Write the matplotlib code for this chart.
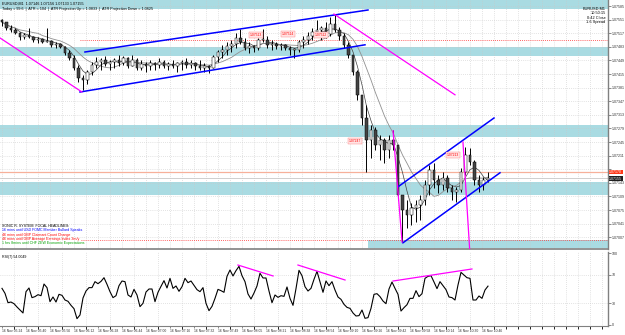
import numpy as np
import pandas as pd
import matplotlib
matplotlib.use("Agg")
import matplotlib.pyplot as plt

plt.rcParams['font.family'] = ['Liberation Sans', 'DejaVu Sans']

# EURUSD M1, grouped into 3-minute bars (minutes from 16 Nov 05:24)
high = [1.07553, 1.07545, 1.07538, 1.07530, 1.07520, 1.07518, 1.07530, 1.07510, 1.07508, 1.07505,
        1.07530, 1.07500, 1.07495, 1.07493, 1.07485, 1.07475, 1.07463, 1.07438, 1.07413, 1.07425,
        1.07445, 1.07458, 1.07455, 1.07460, 1.07450, 1.07455, 1.07463, 1.07460, 1.07458, 1.07463,
        1.07455, 1.07450, 1.07445, 1.07450, 1.07445, 1.07455, 1.07450, 1.07445, 1.07450, 1.07445,
        1.07450, 1.07455, 1.07450, 1.07445, 1.07450, 1.07443, 1.07438, 1.07463, 1.07475, 1.07488,
        1.07495, 1.07500, 1.07518, 1.07528, 1.07505, 1.07495, 1.07488, 1.07505, 1.07528, 1.07510,
        1.07500, 1.07495, 1.07493, 1.07490, 1.07485, 1.07480, 1.07500, 1.07510, 1.07520, 1.07530,
        1.07550, 1.07535, 1.07545, 1.07558, 1.07565, 1.07533, 1.07518, 1.07495, 1.07463, 1.07425,
        1.07363, 1.07338, 1.07288, 1.07283, 1.07263, 1.07255, 1.07263, 1.07275, 1.07238, 1.07113,
        1.07100, 1.07093, 1.07100, 1.07113, 1.07150, 1.07188, 1.07193, 1.07163, 1.07170, 1.07163,
        1.07138, 1.07133, 1.07180, 1.07233, 1.07230, 1.07200, 1.07163, 1.07158, 1.07170]
low = [1.07535, 1.07525, 1.07520, 1.07515, 1.07500, 1.07503, 1.07505, 1.07495, 1.07493, 1.07493,
       1.07495, 1.07483, 1.07480, 1.07480, 1.07463, 1.07450, 1.07425, 1.07395, 1.07375, 1.07390,
       1.07413, 1.07430, 1.07425, 1.07435, 1.07425, 1.07430, 1.07435, 1.07438, 1.07430, 1.07435,
       1.07425, 1.07425, 1.07420, 1.07425, 1.07425, 1.07430, 1.07430, 1.07425, 1.07430, 1.07420,
       1.07425, 1.07430, 1.07430, 1.07425, 1.07425, 1.07420, 1.07418, 1.07430, 1.07445, 1.07455,
       1.07463, 1.07470, 1.07480, 1.07490, 1.07475, 1.07468, 1.07470, 1.07475, 1.07495, 1.07480,
       1.07475, 1.07478, 1.07475, 1.07475, 1.07463, 1.07455, 1.07470, 1.07480, 1.07490, 1.07500,
       1.07510, 1.07500, 1.07505, 1.07510, 1.07520, 1.07500, 1.07480, 1.07455, 1.07413, 1.07350,
       1.07288, 1.07170, 1.07205, 1.07225, 1.07200, 1.07193, 1.07205, 1.07225, 1.07100, 1.06995,
       1.07030, 1.07038, 1.07045, 1.07050, 1.07088, 1.07113, 1.07130, 1.07118, 1.07125, 1.07120,
       1.07100, 1.07095, 1.07120, 1.07163, 1.07188, 1.07138, 1.07120, 1.07125, 1.07145]
close = [1.07545, 1.07530, 1.07525, 1.07518, 1.07508, 1.07513, 1.07508, 1.07500, 1.07503, 1.07495,
         1.07498, 1.07488, 1.07490, 1.07483, 1.07468, 1.07455, 1.07430, 1.07405, 1.07400, 1.07420,
         1.07438, 1.07445, 1.07450, 1.07440, 1.07445, 1.07450, 1.07443, 1.07455, 1.07435, 1.07450,
         1.07430, 1.07440, 1.07435, 1.07443, 1.07438, 1.07445, 1.07435, 1.07440, 1.07435, 1.07443,
         1.07445, 1.07438, 1.07443, 1.07435, 1.07430, 1.07435, 1.07430, 1.07458, 1.07470, 1.07475,
         1.07485, 1.07490, 1.07505, 1.07495, 1.07480, 1.07485, 1.07480, 1.07500, 1.07500, 1.07488,
         1.07490, 1.07485, 1.07488, 1.07480, 1.07475, 1.07475, 1.07495, 1.07500, 1.07510, 1.07520,
         1.07525, 1.07530, 1.07515, 1.07540, 1.07525, 1.07510, 1.07488, 1.07463, 1.07420, 1.07363,
         1.07305, 1.07250, 1.07275, 1.07238, 1.07250, 1.07225, 1.07250, 1.07238, 1.07113, 1.07075,
         1.07063, 1.07080, 1.07088, 1.07100, 1.07138, 1.07175, 1.07150, 1.07138, 1.07155, 1.07130,
         1.07120, 1.07125, 1.07170, 1.07213, 1.07195, 1.07150, 1.07138, 1.07150, 1.07155]
first_open = 1.07550
bar_minutes = np.arange(len(close)) * 3

# RSI(7), sampled every 2 minutes
rsi = [50.9, 44.0, 31.0, 31.9, 29.6, 25.0, 20.8, 16.7, 46.3, 51.4,
       38.0, 39.4, 42.1, 40.7, 56.9, 51.9, 32.4, 38.9, 31.9, 42.6,
       41.2, 34.7, 32.9, 27.3, 22.7, 8.8, 13.9, 37.5, 47.2, 51.9,
       51.9, 60.2, 57.4, 60.6, 65.7, 56.5, 46.3, 38.0, 40.7, 54.6,
       61.1, 60.2, 41.7, 38.9, 49.5, 41.7, 25.5, 30.1, 45.8, 50.0,
       50.0, 32.4, 45.4, 53.7, 61.6, 51.4, 64.8, 50.9, 54.2, 46.8,
       53.2, 64.8, 58.8, 61.1, 55.1, 49.1, 46.3, 51.9, 30.1, 19.9,
       25.9, 37.0, 49.5, 47.7, 45.4, 67.6, 76.4, 68.1, 75.5, 81.5,
       68.5, 60.2, 43.1, 36.1, 44.4, 54.2, 71.8, 65.3, 65.3, 47.2,
       31.0, 41.7, 38.4, 40.7, 39.8, 52.8, 37.0, 27.3, 50.5, 75.9,
       68.5, 53.2, 47.2, 50.9, 63.4, 74.5, 60.2, 45.4, 61.1, 54.6,
       60.2, 48.6, 38.9, 35.6, 28.7, 24.5, 23.1, 16.7, 12.5, 13.0,
       20.8, 9.3, 10.2, 23.1, 42.6, 43.5, 39.4, 33.3, 29.6, 50.0,
       59.7, 50.9, 42.6, 19.4, 24.1, 28.2, 37.0, 37.0, 47.7, 39.4,
       43.5, 64.8, 67.6, 68.5, 59.7, 50.5, 60.2, 54.6, 49.1, 38.9,
       38.0, 34.7, 55.6, 73.1, 69.4, 65.7, 64.8, 34.7, 34.7, 40.3,
       37.0, 48.6, 54.0]
rsi_minutes = np.arange(len(rsi)) * 2

time_labels = ["16 Nov 05:24", "16 Nov 05:40", "16 Nov 05:56", "16 Nov 06:12", "16 Nov 06:28",
               "16 Nov 06:44", "16 Nov 07:00", "16 Nov 07:16", "16 Nov 07:32", "16 Nov 07:49",
               "16 Nov 08:05", "16 Nov 08:21", "16 Nov 08:38", "16 Nov 08:54", "16 Nov 09:10",
               "16 Nov 09:26", "16 Nov 09:42", "16 Nov 09:58", "16 Nov 10:14", "16 Nov 10:30",
               "16 Nov 10:46"]
price_ticks = [1.07585, 1.07551, 1.07517, 1.07483, 1.07449, 1.07415, 1.07381, 1.07347, 1.07313,
               1.07279, 1.07245, 1.07211, 1.07177, 1.07143, 1.07109, 1.07075, 1.07041, 1.07007]
bid, ask_line = 1.07155, 1.07170

# supply / demand zones (price bottom, price top, start minute)
zones = [(1.07578, 1.07610, -5), (1.07460, 1.07483, -5), (1.07258, 1.07288, -5),
         (1.07113, 1.07145, -5), (1.06980, 1.07000, 244)]
round_levels = [(1.07500, 52), (1.07000, 53)]

# drawn objects: (minute, price) pairs
blue_lines = [((55.3, 1.07470), (244, 1.07575)), ((52, 1.07370), (242, 1.07488)),
              ((264, 1.07133), (328, 1.07305)), ((267.3, 1.06993), (332, 1.07168))]
magenta_lines = [((-1.3, 1.07505), (53.3, 1.07370)), ((221.3, 1.07565), (302, 1.07363)),
                 ((260.7, 1.07273), (266.7, 1.06995)), ((307.3, 1.07245), (312, 1.06963))]
rsi_lines = [((157.3, 83.3), (180.7, 68.1)), ((197.3, 83.3), (228.7, 62.5)),
             ((260.7, 61.1), (313.3, 77.8))]
price_tags = [(169.3, 1.07513, "1.07513"), (190.7, 1.07515, "1.07514"), (212.7, 1.07513, "1.07512"),
              (235.3, 1.07248, "1.07247"), (300.7, 1.07213, "1.07213")]

news = [("SONIC R. SYSTEM  FOCAL HEADLINES:", "black"),
        ("16 mins until USD FOMC Member Bullard Speaks", "#0000ff"),
        ("46 mins until GBP Claimant Count Change", "#ff0000"),
        ("46 mins until GBP Average Earnings Index 3m/y", "#ff0000"),
        ("1 hrs 8mins until CHF ZEW Economic Expectations", "#00a000")]

zone_col = "#a9dbe2"
grid_col = "#c8c8c8"
xmin, xmax = -1.33, 404

fig = plt.figure(figsize=(6.25, 3.35), dpi=100)
ax = fig.add_axes([0, 1 - 249 / 335, 608 / 625, 249 / 335])
ax2 = fig.add_axes([0, 9 / 335, 608 / 625, 74 / 335])

for a in (ax, ax2):
    a.set_xlim(xmin, xmax)
    for s in ("left", "top"):
        a.spines[s].set_visible(False)
    a.spines["right"].set_color("#808080")
    a.spines["right"].set_linewidth(1.0)
    a.set_xticks(np.arange(0, 404, 8), minor=False)
    a.grid(True, axis="x", ls=(0, (1, 2)), color=grid_col, lw=0.5)
    a.yaxis.tick_right()
    a.tick_params(axis="y", length=2, width=0.4, pad=1, labelsize=2.6, colors="#303030")
ax.spines["bottom"].set_color("#808080")
ax.spines["bottom"].set_linewidth(1.2)
ax2.spines["top"].set_color("#808080")
ax2.spines["top"].set_linewidth(1.5)
ax2.spines["bottom"].set_color("#808080")
ax2.spines["bottom"].set_linewidth(0.8)

# price panel; the tick under the live price box is hidden by it, as in the terminal
ax.set_ylim(1.069775, 1.07600)
ax.set_yticks(price_ticks)
ax.set_yticklabels(["" if abs(p - ask_line) < 0.0001 else f"{p:.5f}" for p in price_ticks])
ax.grid(True, axis="y", ls=(0, (1, 2)), color=grid_col, lw=0.5)
ax.tick_params(axis="x", length=0, labelbottom=False)

for lo, hi, start in zones:
    ax.fill_between([start, xmax], lo, hi, color=zone_col, lw=0, zorder=1)
for lvl, start in round_levels:
    ax.hlines(lvl, start, xmax, colors="#ff3030", linestyles=(0, (1, 1.5)), lw=0.6, zorder=2)
ax.axhline(ask_line, color="#f7b09a", lw=0.9, zorder=2)
ax.axhline(bid, color="#c8c8c8", lw=0.6, zorder=2)

opens = [first_open] + close[:-1]
o = np.array(opens)
c = np.array(close)
up = c >= o
ax.vlines(bar_minutes, low, high, color="black", lw=0.7, zorder=4)
ax.bar(bar_minutes[up], np.maximum(c[up] - o[up], 0.00002), bottom=o[up], width=1.8,
       color="#ffffff", edgecolor="black", lw=0.35, zorder=5)
ax.bar(bar_minutes[~up], o[~up] - c[~up], bottom=c[~up], width=1.8,
       color="#444444", edgecolor="black", lw=0.35, zorder=5)

ma_fast = pd.Series(close).rolling(4, min_periods=1).mean()
ma_slow = pd.Series(close).rolling(9, min_periods=1).mean()
ax.plot(bar_minutes, ma_fast, color="#404040", lw=0.5, zorder=3)
ax.plot(bar_minutes, ma_slow, color="#909090", lw=0.6, zorder=3)

for (x0, y0), (x1, y1) in blue_lines:
    ax.plot([x0, x1], [y0, y1], color="#0000ff", lw=1.1, zorder=6)
for (x0, y0), (x1, y1) in magenta_lines:
    ax.plot([x0, x1], [y0, y1], color="#ff00ff", lw=0.9, zorder=6)

for t, p, s in price_tags:
    ax.text(t, p, s, fontsize=2.4, color="#ff0000", ha="center", va="center", zorder=7,
            bbox=dict(boxstyle="square,pad=0.25", fc="#ffe4e4", ec="#ff8080", lw=0.3))

# current price boxes on the axis
ax.text(1.002, ask_line, f"{ask_line:.5f}", transform=ax.get_yaxis_transform(), fontsize=2.5,
        color="white", va="center", ha="left", clip_on=False,
        bbox=dict(boxstyle="square,pad=0.12", fc="#ff3a1a", ec="none"))
ax.text(1.002, bid - 0.00002, f"{bid:.5f}", transform=ax.get_yaxis_transform(), fontsize=2.5,
        color="white", va="center", ha="left", clip_on=False,
        bbox=dict(boxstyle="square,pad=0.12", fc="#202020", ec="none"))

ax.text(0.004, 0.992, "EURUSD,M1  1.07146 1.07156 1.07133 1.07155", transform=ax.transAxes,
        fontsize=2.7, va="top", ha="left")
ax.text(0.004, 0.972, "Today = 99.6  |  ATR = 104  |  ATR Projection Up = 1.0833  |  ATR Projection Down = 1.0625",
        transform=ax.transAxes, fontsize=2.7, va="top", ha="left")
for i, s in enumerate(["EURUSD,M1", "10:50:15", "0:42 Close", "1.6 Spread"]):
    ax.text(0.996, 0.975 - i * 0.019, s, transform=ax.transAxes, fontsize=2.8, va="top", ha="right")
for i, (s, col) in enumerate(news):
    ax.text(0.004, 0.092 - i * 0.017, s, transform=ax.transAxes, fontsize=2.6, color=col,
            va="center", ha="left", zorder=8)

# RSI panel
ax2.set_ylim(-1.4, 101.4)
ax2.set_yticks([0, 30, 70, 100])
ax2.set_yticklabels(["0", "30", "70", "100"])
for lvl in (30, 70):
    ax2.axhline(lvl, color=grid_col, ls=(0, (1, 2)), lw=0.5)
ax2.plot(rsi_minutes, rsi, color="black", lw=0.8, zorder=4)
for (x0, y0), (x1, y1) in rsi_lines:
    ax2.plot([x0, x1], [y0, y1], color="#ff00ff", lw=0.9, zorder=5)
ax2.text(0.004, 0.96, "RSI(7) 54.0049", transform=ax2.transAxes, fontsize=2.6, va="top", ha="left")

label_minutes = np.arange(len(time_labels)) * 16
ax2.set_xticks(label_minutes)
ax2.set_xticklabels(time_labels, ha="left")
ax2.set_xticks(np.arange(0, 404, 8), minor=True)
ax2.grid(False, axis="x")
ax2.grid(True, axis="x", which="minor", ls=(0, (1, 2)), color=grid_col, lw=0.5)
ax2.tick_params(axis="x", length=1.5, width=0.4, pad=1, labelsize=2.4, colors="#303030")

fig.savefig("out.png", dpi=100)
